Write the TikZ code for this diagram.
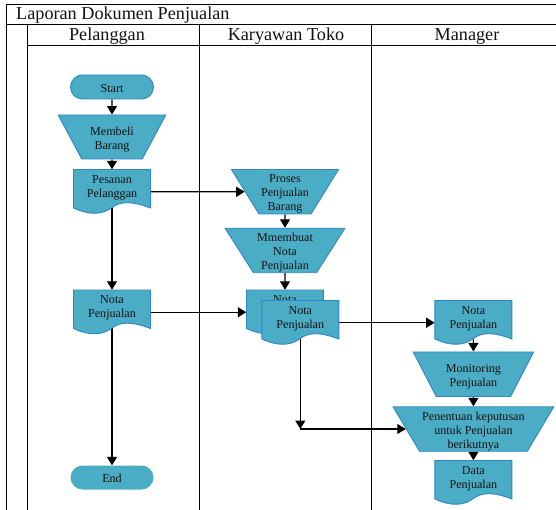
\documentclass[tikz,border=0pt]{standalone}
\usepackage{fontspec}
\setmainfont{Liberation Serif}
\usetikzlibrary{arrows.meta,shapes.geometric,shapes.misc,calc}
\pgfdeclarelayer{bg}
\pgfsetlayers{bg,main}
\definecolor{boxfill}{HTML}{4BACC6}
\definecolor{boxline}{HTML}{2E86C8}
\definecolor{inkc}{HTML}{111111}
\tikzset{
  framel/.style={draw=black,line width=1pt},
  titletext/.style={inner sep=0pt,anchor=base,font=\fontsize{18.2}{20}\selectfont,text=inkc},
  boxtext/.style={inner sep=0pt,align=center,text=inkc,font=\fontsize{12.1}{14}\selectfont},
  term/.style={boxtext,rounded rectangle,fill=boxfill,minimum width=83pt,minimum height=24pt},
  termline/.style={draw=boxline,line width=0.9pt},
  manual/.style={boxtext,trapezium,trapezium stretches=true,shape border rotate=180,
    trapezium left angle=60,trapezium right angle=60,fill=boxfill,draw=boxline,line width=0.9pt},
  docshape/.style={fill=boxfill,draw=boxline,line width=0.9pt,line join=miter},
  docbody/.style={inner sep=0pt,minimum width=77pt,minimum height=44.5pt},
  link/.style={draw=black,line width=1.1pt},
  arrowlink/.style={link,-{Triangle[length=8.5pt,width=10pt]}}
}
\newcommand{\pushdown}{\rule{0pt}{13pt}}
\newcommand{\pushterm}{\rule{0pt}{10.5pt}}
% name, centre x, top y, text
\newcommand{\docnode}[4]{%
  \begin{scope}[shift={(#2,#3)}]
    \path[docshape] (-38.5,0) -- (38.5,0) -- (38.5,38.5)
      .. controls (19,31) and (8,32) .. (0,38)
      .. controls (-8,44) and (-20,47) .. (-38.5,38.5) -- cycle;
  \end{scope}
  \node[docbody] (#1) at (#2,#3+22.25) {};
  \node[boxtext] (#1-text) at ([yshift=4pt]#1.center) {#4};
}
\begin{document}
\begin{tikzpicture}[x=1pt,y=-1pt]
\useasboundingbox (0,0) rectangle (556,510);
% titles
\node[titletext,anchor=base west] (title) at (16,20) {Laporan Dokumen Penjualan};
\node[titletext] (h1) at (107,41) {Pelanggan};
\node[titletext] (h2) at (286,41) {Karyawan Toko};
\node[titletext] (h3) at (467,41) {Manager};
% nodes
\node[term,termline] (start) at (112,87) {\pushterm Start};
\node[manual,minimum width=108pt,minimum height=44pt] (beli) at (112,137) {\pushdown Membeli\\Barang};
\docnode{pesanan}{112}{169.5}{Pesanan\\Pelanggan}
\docnode{nota1}{112}{290}{Nota\\Penjualan}
\node[term] (end) at (112,477.5) {\pushterm End};
\node[manual,minimum width=108pt,minimum height=44.5pt] (proses) at (285,191.75) {\pushdown Proses\\Penjualan\\Barang};
\node[manual,minimum width=120pt,minimum height=44.5pt] (buat) at (285,250.5) {\pushdown Mmembuat\\Nota\\Penjualan};
\docnode{nota2}{285}{290}{Nota\\Penjualan}
\docnode{nota3}{300.3}{300.5}{Nota\\Penjualan}
\docnode{nota4}{473.4}{300.5}{Nota\\Penjualan}
\node[manual,minimum width=120.5pt,minimum height=44.5pt] (monitor) at (473.4,374.2) {\pushdown Monitoring\\Penjualan};
\node[manual,minimum width=161pt,minimum height=44.5pt] (tentu) at (473.4,429) {\pushdown Penentuan keputusan\\untuk Penjualan\\berikutnya};
\docnode{data}{473.4}{460.5}{Data\\Penjualan}
\coordinate (junction) at (nota3.center |- tentu.west);
\begin{pgfonlayer}{bg}
  \draw[framel] (556,4.5) -- (6,4.5) -- (6,510);
  \draw[framel] (6,25) -- (556,25);
  \draw[framel] (27.5,45.5) -- (556,45.5);
  \draw[framel] (27.5,25) -- (27.5,510);
  \draw[framel] (199,25) -- (199,510);
  \draw[framel] (371,25) -- (371,510);
  \draw[arrowlink] (start) -- (beli);
  \draw[arrowlink] (beli) -- (pesanan.north);
  \draw[arrowlink] (pesanan.center) -- (nota1.north);
  \draw[arrowlink] (nota1.center) -- (end.north);
  \draw[arrowlink] (pesanan.east) -- (proses.west);
  \draw[arrowlink] (proses) -- (buat);
  \draw[arrowlink] (buat) -- (nota2.north);
  \draw[arrowlink] (nota1.east) -- (nota2.west);
  \draw[arrowlink] (nota3.east) -- (nota4.west);
  \draw[arrowlink] (nota4.center) -- (monitor.north);
  \draw[arrowlink] (monitor) -- (tentu);
  \draw[arrowlink] (tentu) -- (data.north);
  \draw[arrowlink] (nota3.center) -- (junction);
  \draw[arrowlink] (junction) -- (tentu.west);
\end{pgfonlayer}
\end{tikzpicture}
\end{document}
